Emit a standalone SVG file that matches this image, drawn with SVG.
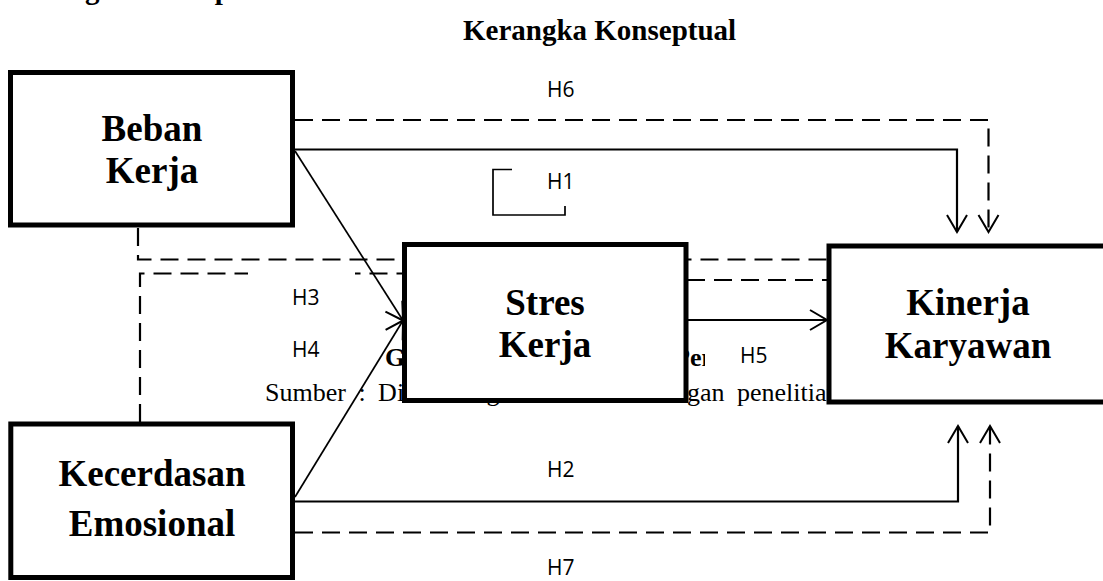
<svg xmlns="http://www.w3.org/2000/svg" width="1103" height="581" viewBox="0 0 1103 581">
<defs>
<style>
.box{fill:#fff;stroke:#000;stroke-width:5}
.nt{font-family:"Liberation Serif","Times New Roman",serif;font-weight:bold;font-size:37px;text-anchor:middle;fill:#000}
.ttl{font-family:"Liberation Serif","Times New Roman",serif;font-weight:bold;font-size:29px;fill:#000}
.capb{font-family:"Liberation Serif","Times New Roman",serif;font-weight:bold;font-size:26px;fill:#000}
.cap{font-family:"Liberation Serif","Times New Roman",serif;font-size:26px;fill:#000;word-spacing:6px}
.lbl{font-family:"Open Sans","Liberation Sans",sans-serif;font-size:21px;fill:#000}
.ln{fill:none;stroke:#000;stroke-width:2.2}
.dl{fill:none;stroke:#000;stroke-width:2.2;stroke-dasharray:18 9}
.dg{fill:none;stroke:#000;stroke-width:1.7}
.mask{fill:#fff;stroke:none}
</style>
<marker id="ah" markerUnits="userSpaceOnUse" viewBox="-20 -12 22 24" markerWidth="22" markerHeight="24" refX="0" refY="0" orient="auto" overflow="visible">
<path d="M-17,-10 L0,0 L-17,10" fill="none" stroke="#000" stroke-width="2"/>
</marker>
</defs>
<rect x="0" y="0" width="1103" height="581" fill="#fff"/>

<g id="captions">
<text class="ttl" x="6" y="-1">Kerangka Konseptual</text>
<text class="ttl" x="463" y="40">Kerangka Konseptual</text>
<text class="capb" x="385" y="366"><tspan>Gambar 2.1 Kerangka </tspan><tspan x="674">Pemikiran</tspan></text>
<text class="cap" x="265" y="401"><tspan>Sumber : Dikembangkan sesuai den</tspan><tspan x="687">gan penelitian</tspan></text>
</g>

<g id="connectors">
<path class="dl" d="M295,120 H988.5 V232" marker-end="url(#ah)"/>
<path class="ln" d="M295,149.5 H957 V232" marker-end="url(#ah)"/>
<path class="dg" d="M295,151 L403,320.5" marker-end="url(#ah)"/>
<path class="dg" d="M295,497 L403,320.5" marker-end="url(#ah)"/>
<path class="dl" d="M138,228 V259.5 H827"/>
<path class="dl" d="M140,422 V273.5 H545 V280 H827"/>
<path class="ln" d="M688,320 H827" marker-end="url(#ah)"/>
<path class="ln" d="M295,501.5 H958 V426" marker-end="url(#ah)"/>
<path class="dl" d="M295,532.5 H990 V426" marker-end="url(#ah)"/>
<polyline class="dg" points="512,169.5 493,169.5 493,215 565,215 565,206"/>
</g>

<g id="labels">
<rect class="mask" x="248" y="265" width="107" height="45"/>
<rect class="mask" x="705" y="340" width="96" height="34"/>
<text class="lbl" x="547" y="96.5">H6</text>
<text class="lbl" x="547" y="189">H1</text>
<text class="lbl" x="292" y="305">H3</text>
<text class="lbl" x="292" y="356.5">H4</text>
<text class="lbl" x="740" y="363">H5</text>
<text class="lbl" x="547" y="477">H2</text>
<text class="lbl" x="547" y="575">H7</text>
</g>

<g id="beban-kerja">
<rect class="box" x="10.5" y="72.5" width="282" height="152.5"/>
<text class="nt" x="152" y="141">Beban</text>
<text class="nt" x="152" y="183">Kerja</text>
</g>

<g id="stres-kerja">
<rect class="box" x="404.5" y="244.5" width="281.5" height="156"/>
<text class="nt" x="545" y="315">Stres</text>
<text class="nt" x="545" y="357">Kerja</text>
</g>

<g id="kinerja-karyawan">
<rect class="box" x="829" y="246" width="280" height="156"/>
<text class="nt" x="968" y="315">Kinerja</text>
<text class="nt" x="968" y="358">Karyawan</text>
</g>

<g id="kecerdasan-emosional">
<rect class="box" x="10.8" y="424" width="281.7" height="153.5"/>
<text class="nt" x="152" y="486">Kecerdasan</text>
<text class="nt" x="152" y="536">Emosional</text>
</g>
</svg>
